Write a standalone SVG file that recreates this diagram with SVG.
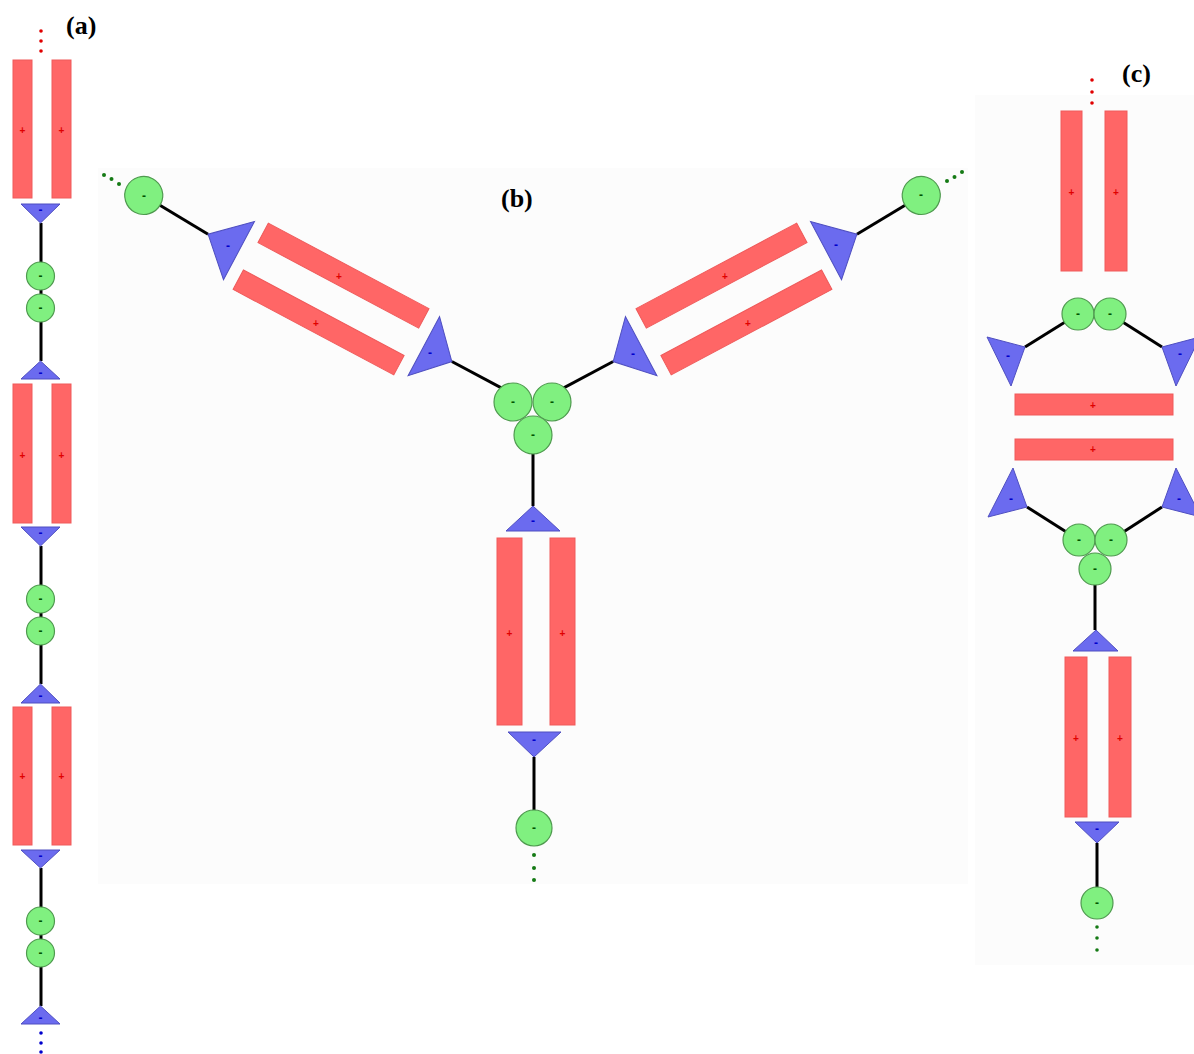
<svg xmlns="http://www.w3.org/2000/svg" width="1194" height="1054" viewBox="0 0 1194 1054">
<style>
.r{fill:#ff6666;stroke:#ef5a5a;stroke-width:1}
.t{fill:#6b6bef;stroke:#4f4fc0;stroke-width:1}
.c{fill:#80f080;stroke:#4f9a4f;stroke-width:1.2}
.ln{stroke:#000;stroke-width:3;fill:none}
.p{fill:#e00000;font-family:"Liberation Sans",Arial,sans-serif;font-size:10px;font-weight:bold;text-anchor:middle;dominant-baseline:central}
.mt{fill:#0000cc;font-family:"Liberation Sans",Arial,sans-serif;font-size:12px;font-weight:bold;text-anchor:middle;dominant-baseline:central}
.mc{fill:#005500;font-family:"Liberation Sans",Arial,sans-serif;font-size:12px;font-weight:bold;text-anchor:middle;dominant-baseline:central}
.dr{fill:#e00000}.dg{fill:#157a15}.db{fill:#0000cc}
.lbl{font-family:"Liberation Serif","Times New Roman",serif;font-size:26px;font-weight:bold;fill:#000}
.bg{fill:#fcfcfc}
</style>
<rect width="1194" height="1054" fill="#ffffff"/>
<rect class="bg" x="98" y="168" width="870" height="716"/>
<rect class="bg" x="975" y="95" width="219" height="870"/>

<!-- connectors -->
<g id="connectors">
  <line class="ln" x1="41" y1="223" x2="41" y2="361"/>
  <line class="ln" x1="41" y1="546" x2="41" y2="684"/>
  <line class="ln" x1="41" y1="868" x2="41" y2="1006"/>
  <line class="ln" x1="533" y1="435" x2="533" y2="506"/>
  <line class="ln" x1="534" y1="757" x2="534" y2="828"/>
  <g transform="translate(552,402) rotate(-28)">
    <line class="ln" x1="0" y1="-7" x2="73" y2="-7"/>
    <line class="ln" x1="348" y1="-5" x2="423" y2="-9"/>
  </g>
  <g transform="translate(513,402) rotate(208) scale(1,-1)">
    <line class="ln" x1="0" y1="-7" x2="73" y2="-7"/>
    <line class="ln" x1="348" y1="-5" x2="423" y2="-9"/>
  </g>
  <line class="ln" x1="1078" y1="314" x2="1025" y2="347"/>
  <line class="ln" x1="1110" y1="314" x2="1162" y2="347"/>
  <line class="ln" x1="1027" y1="507" x2="1079" y2="540"/>
  <line class="ln" x1="1162" y1="507" x2="1111" y2="540"/>
  <line class="ln" x1="1095" y1="569" x2="1095" y2="630"/>
  <line class="ln" x1="1097" y1="843" x2="1097" y2="903"/>
</g>

<!-- labels -->
<text class="lbl" x="66" y="34">(a)</text>
<text class="lbl" x="501" y="207">(b)</text>
<text class="lbl" x="1122" y="82">(c)</text>

<!-- Panel (a) -->
<g id="a-dots-top"><circle class="dr" cx="41" cy="31" r="1.8"/><circle class="dr" cx="41" cy="41" r="1.8"/><circle class="dr" cx="41" cy="51" r="1.8"/></g>
<g id="a-rect1"><rect class="r" x="13" y="60" width="19" height="138"/><text class="p" x="22.5" y="130">+</text></g>
<g id="a-rect2"><rect class="r" x="52" y="60" width="19" height="138"/><text class="p" x="61.5" y="130">+</text></g>
<g id="a-tri1"><polygon class="t" points="21,204 60,204 40.5,223"/><text class="mt" x="40.5" y="210">-</text></g>
<g id="a-c1"><circle class="c" cx="40.5" cy="276" r="14"/><text class="mc" x="40.5" y="276">-</text></g>
<g id="a-c2"><circle class="c" cx="40.5" cy="308" r="14"/><text class="mc" x="40.5" y="308">-</text></g>
<g id="a-tri2"><polygon class="t" points="40.5,361 21,379 60,379"/><text class="mt" x="40.5" y="373">-</text></g>
<g id="a-rect3"><rect class="r" x="13" y="384" width="19" height="139"/><text class="p" x="22.5" y="455">+</text></g>
<g id="a-rect4"><rect class="r" x="52" y="384" width="19" height="139"/><text class="p" x="61.5" y="455">+</text></g>
<g id="a-tri3"><polygon class="t" points="21,527 60,527 40.5,546"/><text class="mt" x="40.5" y="533">-</text></g>
<g id="a-c3"><circle class="c" cx="40.5" cy="599" r="14"/><text class="mc" x="40.5" y="599">-</text></g>
<g id="a-c4"><circle class="c" cx="40.5" cy="631" r="14"/><text class="mc" x="40.5" y="631">-</text></g>
<g id="a-tri4"><polygon class="t" points="40.5,684 21,703 60,703"/><text class="mt" x="40.5" y="696">-</text></g>
<g id="a-rect5"><rect class="r" x="13" y="707" width="19" height="138"/><text class="p" x="22.5" y="776">+</text></g>
<g id="a-rect6"><rect class="r" x="52" y="707" width="19" height="138"/><text class="p" x="61.5" y="776">+</text></g>
<g id="a-tri5"><polygon class="t" points="21,850 60,850 40.5,868"/><text class="mt" x="40.5" y="856">-</text></g>
<g id="a-c5"><circle class="c" cx="40.5" cy="921" r="14"/><text class="mc" x="40.5" y="921">-</text></g>
<g id="a-c6"><circle class="c" cx="40.5" cy="953" r="14"/><text class="mc" x="40.5" y="953">-</text></g>
<g id="a-tri6"><polygon class="t" points="40.5,1006 21,1024 60,1024"/><text class="mt" x="40.5" y="1018">-</text></g>
<g id="a-dots-bottom"><circle class="db" cx="41" cy="1033" r="1.8"/><circle class="db" cx="41" cy="1043" r="1.8"/><circle class="db" cx="41" cy="1052" r="1.8"/></g>

<!-- Panel (b) center cluster -->
<g id="b-c-left"><circle class="c" cx="513" cy="402" r="19"/><text class="mc" x="513" y="402">-</text></g>
<g id="b-c-right"><circle class="c" cx="552" cy="402" r="19"/><text class="mc" x="552" y="402">-</text></g>
<g id="b-c-bottom"><circle class="c" cx="533" cy="435" r="19"/><text class="mc" x="533" y="435">-</text></g>

<!-- Panel (b) bottom arm -->
<g id="b-tri-b1"><polygon class="t" points="533,506 506,531 560,531"/><text class="mt" x="533" y="521">-</text></g>
<g id="b-rect-b1"><rect class="r" x="497" y="538" width="25" height="187"/><text class="p" x="509.5" y="633">+</text></g>
<g id="b-rect-b2"><rect class="r" x="550" y="538" width="25" height="187"/><text class="p" x="562.5" y="633">+</text></g>
<g id="b-tri-b2"><polygon class="t" points="508,732 561,732 534,757"/><text class="mt" x="534" y="740">-</text></g>
<g id="b-c-b"><circle class="c" cx="534" cy="828" r="18"/><text class="mc" x="534" y="828">-</text></g>
<g id="b-dots-b"><circle class="dg" cx="534" cy="855" r="2"/><circle class="dg" cx="534" cy="868" r="2"/><circle class="dg" cx="534" cy="880" r="2"/></g>

<!-- Panel (b) upper-right arm -->
<g transform="translate(552,402) rotate(-28)">
  <g id="b-tri-r1"><polygon class="t" points="73,-7 105,-41 105,26"/></g>
  <g id="b-rect-r1"><rect class="r" x="118" y="-43" width="182" height="22"/></g>
  <g id="b-rect-r2"><rect class="r" x="118" y="10" width="182" height="22"/></g>
  <g id="b-tri-r2"><polygon class="t" points="313,-38 313,28 348,-5"/></g>
  <g id="b-c-r"><circle class="c" cx="423" cy="-9" r="19"/></g>
</g>
<text class="mt" x="633" y="354">-</text>
<text class="p" x="725" y="276">+</text>
<text class="p" x="748" y="323">+</text>
<text class="mt" x="836" y="245">-</text>
<text class="mc" x="921" y="195">-</text>
<g id="b-dots-r"><circle class="dg" cx="947" cy="181" r="2"/><circle class="dg" cx="954.5" cy="177" r="2"/><circle class="dg" cx="962" cy="172" r="2"/></g>

<!-- Panel (b) upper-left arm -->
<g transform="translate(513,402) rotate(208) scale(1,-1)">
  <g id="b-tri-l1"><polygon class="t" points="73,-7 105,-41 105,26"/></g>
  <g id="b-rect-l1"><rect class="r" x="118" y="-43" width="182" height="22"/></g>
  <g id="b-rect-l2"><rect class="r" x="118" y="10" width="182" height="22"/></g>
  <g id="b-tri-l2"><polygon class="t" points="313,-38 313,28 348,-5"/></g>
  <g id="b-c-l"><circle class="c" cx="423" cy="-9" r="19"/></g>
</g>
<text class="mt" x="430" y="353">-</text>
<text class="p" x="339" y="276">+</text>
<text class="p" x="316" y="323">+</text>
<text class="mt" x="228" y="246">-</text>
<text class="mc" x="144" y="196">-</text>
<g id="b-dots-l"><circle class="dg" cx="104" cy="175" r="2"/><circle class="dg" cx="111.5" cy="179" r="2"/><circle class="dg" cx="119" cy="184" r="2"/></g>

<!-- Panel (c) -->
<g id="c-dots-top"><circle class="dr" cx="1092" cy="80" r="1.8"/><circle class="dr" cx="1092" cy="92" r="1.8"/><circle class="dr" cx="1092" cy="103" r="1.8"/></g>
<g id="c-rect1"><rect class="r" x="1061" y="111" width="21" height="160"/><text class="p" x="1071.5" y="192">+</text></g>
<g id="c-rect2"><rect class="r" x="1105" y="111" width="22" height="160"/><text class="p" x="1116" y="192">+</text></g>
<g id="c-c1"><circle class="c" cx="1078" cy="314" r="16"/><text class="mc" x="1078" y="314">-</text></g>
<g id="c-c2"><circle class="c" cx="1110" cy="314" r="16"/><text class="mc" x="1110" y="314">-</text></g>
<g id="c-tri1"><polygon class="t" points="987,337 1025,347 1011,386"/><text class="mt" x="1008" y="356">-</text></g>
<g id="c-tri2"><polygon class="t" points="1200,337 1162,347 1176,386"/><text class="mt" x="1180" y="354">-</text></g>
<g id="c-rect3"><rect class="r" x="1015" y="394" width="158" height="21"/><text class="p" x="1093" y="405">+</text></g>
<g id="c-rect4"><rect class="r" x="1015" y="439" width="158" height="21"/><text class="p" x="1093" y="449">+</text></g>
<g id="c-tri3"><polygon class="t" points="1013,468 988,517 1027,507"/><text class="mt" x="1011" y="499">-</text></g>
<g id="c-tri4"><polygon class="t" points="1176,468 1162,507 1201,517"/><text class="mt" x="1179" y="499">-</text></g>
<g id="c-c3"><circle class="c" cx="1079" cy="540" r="16"/><text class="mc" x="1079" y="540">-</text></g>
<g id="c-c4"><circle class="c" cx="1111" cy="540" r="16"/><text class="mc" x="1111" y="540">-</text></g>
<g id="c-c5"><circle class="c" cx="1095" cy="569" r="16"/><text class="mc" x="1095" y="569">-</text></g>
<g id="c-tri5"><polygon class="t" points="1096,630 1073,651 1118,651"/><text class="mt" x="1096" y="643">-</text></g>
<g id="c-rect5"><rect class="r" x="1065" y="657" width="22" height="160"/><text class="p" x="1076" y="738">+</text></g>
<g id="c-rect6"><rect class="r" x="1109" y="657" width="22" height="160"/><text class="p" x="1120" y="738">+</text></g>
<g id="c-tri6"><polygon class="t" points="1075,822 1119,822 1097,843"/><text class="mt" x="1097" y="829">-</text></g>
<g id="c-c6"><circle class="c" cx="1097" cy="903" r="16"/><text class="mc" x="1097" y="903">-</text></g>
<g id="c-dots-bottom"><circle class="dg" cx="1097" cy="927" r="1.8"/><circle class="dg" cx="1097" cy="938" r="1.8"/><circle class="dg" cx="1097" cy="950" r="1.8"/></g>
</svg>
